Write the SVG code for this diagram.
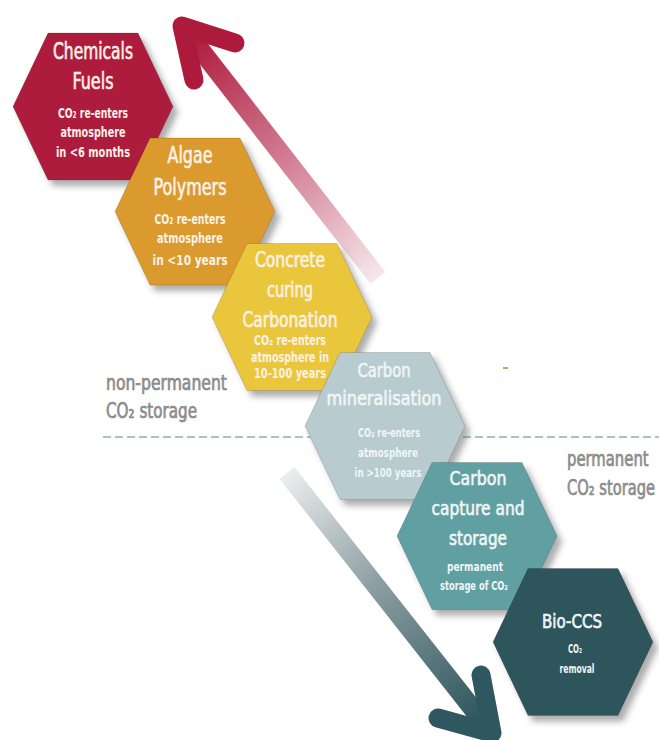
<svg xmlns="http://www.w3.org/2000/svg" xmlns:xlink="http://www.w3.org/1999/xlink" width="659" height="740" viewBox="0 0 659 740">
  <style>
    .hex { stroke: rgba(0,0,0,0.14); stroke-width: 1; filter: url(#shadow); }
    .t { font-family: "Liberation Sans Narrow", "DejaVu Sans Condensed", "Liberation Sans", Arial, sans-serif; text-anchor: middle; }
    .ttl { stroke-width: 0.6; }
    .warm { fill: #FBF1E6; stroke: #FBF1E6; }
    .cool { fill: #F1F6F6; stroke: #F1F6F6; }
    .sub { stroke-width: 0; font-weight: bold; }
    .lbl { font-family: "Liberation Sans Narrow", "DejaVu Sans Condensed", "Liberation Sans", Arial, sans-serif; fill: #8C8C8C; stroke: #8C8C8C; stroke-width: 0.7; font-size: 21px; }
  </style>
  <defs>
    <polygon id="hexshape" points="-80,0 -45,-73.5 45,-73.5 80,0 45,73.5 -45,73.5"/>
    <filter id="shadow" x="-20%" y="-20%" width="150%" height="150%">
      <feDropShadow dx="5" dy="6" stdDeviation="3" flood-color="#4a4a4a" flood-opacity="0.45"/>
    </filter>
    <linearGradient id="gradUp" gradientUnits="userSpaceOnUse" x1="378" y1="278" x2="190" y2="36">
      <stop offset="0" stop-color="#F6E8ED"/>
      <stop offset="0.45" stop-color="#D4859B"/>
      <stop offset="1" stop-color="#AE1A3B"/>
    </linearGradient>
    <linearGradient id="gradDown" gradientUnits="userSpaceOnUse" x1="287" y1="473" x2="480" y2="718">
      <stop offset="0" stop-color="#EBEEEF"/>
      <stop offset="0.45" stop-color="#8E9FA3"/>
      <stop offset="1" stop-color="#2F575F"/>
    </linearGradient>
  </defs>

  <rect width="659" height="740" fill="#FFFFFF"/>

  <!-- dashed divider and labels -->
  <line x1="103" y1="437" x2="659" y2="437" stroke="#A6C4C8" stroke-width="2" stroke-dasharray="8 4"/>
  <text class="lbl" x="106" y="390" textLength="121" lengthAdjust="spacingAndGlyphs">non-permanent</text>
  <text class="lbl" x="106" y="418" textLength="91" lengthAdjust="spacingAndGlyphs">CO₂ storage</text>
  <text class="lbl" transform="translate(567,466) scale(0.8,1)" x="0" y="0" textLength="102" lengthAdjust="spacingAndGlyphs">permanent</text>
  <text class="lbl" transform="translate(567,495) scale(0.8,1)" x="0" y="0" textLength="110" lengthAdjust="spacingAndGlyphs">CO₂ storage</text>
  <rect x="503" y="367" width="5" height="2" fill="#D1A14C"/>

  <!-- connectors (arrows) -->
  <g id="connectors">
    <g id="arrow-up">
      <line x1="378" y1="278" x2="186" y2="31" stroke="url(#gradUp)" stroke-width="19" stroke-linecap="butt"/>
      <polyline points="235,43 182,26 194,80" fill="none" stroke="#AE1A3B" stroke-width="19" stroke-linecap="round" stroke-linejoin="round"/>
    </g>
    <g id="arrow-down">
      <line x1="287" y1="473" x2="488" y2="728" stroke="url(#gradDown)" stroke-width="19" stroke-linecap="butt"/>
      <polyline points="481,675 492,733 438,718" fill="none" stroke="#2F575F" stroke-width="19" stroke-linecap="round" stroke-linejoin="round"/>
    </g>
  </g>

  <!-- nodes -->
  <g id="node-chemicals">
    <use xlink:href="#hexshape" href="#hexshape" class="hex" x="93" y="106.5" fill="#AE1D3D"/>
    <text class="t ttl warm" font-size="23" x="93" y="59" textLength="80" lengthAdjust="spacingAndGlyphs">Chemicals</text>
    <text class="t ttl warm" font-size="23" x="93" y="89" textLength="41" lengthAdjust="spacingAndGlyphs">Fuels</text>
    <text class="t sub warm" font-size="14" x="93" y="118" textLength="70" lengthAdjust="spacingAndGlyphs">CO₂ re-enters</text>
    <text class="t sub warm" font-size="14" x="93" y="137" textLength="65" lengthAdjust="spacingAndGlyphs">atmosphere</text>
    <text class="t sub warm" font-size="14" x="93" y="157" textLength="74" lengthAdjust="spacingAndGlyphs">in &lt;6 months</text>
  </g>

  <g id="node-algae">
    <use xlink:href="#hexshape" href="#hexshape" class="hex" x="195" y="211.5" fill="#DA9A2E"/>
    <text class="t ttl warm" font-size="23" x="190" y="163" textLength="45" lengthAdjust="spacingAndGlyphs">Algae</text>
    <text class="t ttl warm" font-size="23" x="190" y="195" textLength="73" lengthAdjust="spacingAndGlyphs">Polymers</text>
    <text class="t sub warm" font-size="14" x="190" y="224" textLength="71" lengthAdjust="spacingAndGlyphs">CO₂ re-enters</text>
    <text class="t sub warm" font-size="14" x="190" y="243" textLength="66" lengthAdjust="spacingAndGlyphs">atmosphere</text>
    <text class="t sub warm" font-size="14" x="190" y="265" textLength="75" lengthAdjust="spacingAndGlyphs">in &lt;10 years</text>
  </g>

  <g id="node-concrete">
    <use xlink:href="#hexshape" href="#hexshape" class="hex" x="292" y="317" fill="#EAC63C"/>
    <text class="t ttl warm" font-size="21" x="290" y="267" textLength="70" lengthAdjust="spacingAndGlyphs">Concrete</text>
    <text class="t ttl warm" font-size="21" x="290" y="297" textLength="46" lengthAdjust="spacingAndGlyphs">curing</text>
    <text class="t ttl warm" font-size="21" x="290" y="327" textLength="95" lengthAdjust="spacingAndGlyphs">Carbonation</text>
    <text class="t sub warm" font-size="13.5" x="290" y="345" textLength="72" lengthAdjust="spacingAndGlyphs">CO₂ re-enters</text>
    <text class="t sub warm" font-size="13.5" x="290" y="362" textLength="78" lengthAdjust="spacingAndGlyphs">atmosphere in</text>
    <text class="t sub warm" font-size="13.5" x="290" y="378" textLength="72" lengthAdjust="spacingAndGlyphs">10-100 years</text>
  </g>

  <g id="node-mineralisation">
    <use xlink:href="#hexshape" href="#hexshape" class="hex" x="385" y="426" fill="#B8CBCF"/>
    <text class="t ttl cool" font-size="20" x="384" y="377" textLength="53" lengthAdjust="spacingAndGlyphs">Carbon</text>
    <text class="t ttl cool" font-size="20" x="384" y="405" textLength="115" lengthAdjust="spacingAndGlyphs">mineralisation</text>
    <text class="t sub cool" font-size="13" x="389" y="437" textLength="62" lengthAdjust="spacingAndGlyphs">CO₂ re-enters</text>
    <text class="t sub cool" font-size="13" x="388" y="457" textLength="60" lengthAdjust="spacingAndGlyphs">atmosphere</text>
    <text class="t sub cool" font-size="13" x="388" y="477" textLength="67" lengthAdjust="spacingAndGlyphs">in &gt;100 years</text>
  </g>

  <g id="node-ccs">
    <use xlink:href="#hexshape" href="#hexshape" class="hex" x="477" y="536" fill="#61A0A3"/>
    <text class="t ttl cool" font-size="20" x="478" y="485" textLength="57" lengthAdjust="spacingAndGlyphs">Carbon</text>
    <text class="t ttl cool" font-size="20" x="478" y="515" textLength="93" lengthAdjust="spacingAndGlyphs">capture and</text>
    <text class="t ttl cool" font-size="20" x="478" y="545" textLength="58" lengthAdjust="spacingAndGlyphs">storage</text>
    <text class="t sub cool" font-size="12.5" x="475" y="571" textLength="56" lengthAdjust="spacingAndGlyphs">permanent</text>
    <text class="t sub cool" font-size="12.5" x="474" y="590" textLength="68" lengthAdjust="spacingAndGlyphs">storage of CO₂</text>
  </g>

  <g id="node-bioccs">
    <use xlink:href="#hexshape" href="#hexshape" class="hex" x="573" y="642" fill="#2F555C"/>
    <text class="t ttl cool" font-size="19" x="572" y="628" textLength="60" lengthAdjust="spacingAndGlyphs">Bio-CCS</text>
    <text class="t sub cool" font-size="13" x="575" y="653" textLength="14" lengthAdjust="spacingAndGlyphs">CO₂</text>
    <text class="t sub cool" font-size="13" x="577" y="673" textLength="35" lengthAdjust="spacingAndGlyphs">removal</text>
  </g>
</svg>
